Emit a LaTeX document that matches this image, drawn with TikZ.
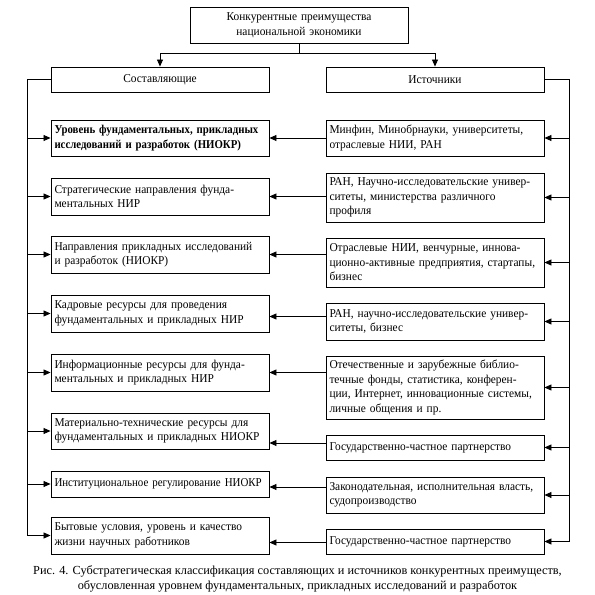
\documentclass[tikz,border=0pt]{standalone}
\usepackage{fontspec}
\setmainfont{Liberation Serif}
\newfontfamily\boxfont[FakeStretch=0.95]{Liberation Serif}
\newfontfamily\boxfontn[FakeStretch=0.91]{Liberation Serif}
\newfontfamily\bfnarrow[FakeStretch=0.9]{Liberation Serif}
\usetikzlibrary{arrows.meta,calc}
\newcommand\jl[1]{\makebox[\linewidth][s]{#1}}
\begin{document}
\begin{tikzpicture}[x=1pt,y=-1pt,
  box/.style={draw, line width=0.9pt, rectangle, minimum width=218pt, text width=211pt,
    inner xsep=3.5pt, inner ysep=2pt, align=left, font=\boxfont\fontsize{12}{14.5}\selectfont},
  cbox/.style={box, align=center},
  conn/.style={line width=0.8pt},
  arr/.style={conn, -{Triangle[length=7pt,width=6pt]}},
]
\useasboundingbox[fill=white] (0,0) rectangle (595,595);

% top level
\node[cbox, minimum height=36pt] (top) at (299,25) {Конкурентные преимущества\\национальной экономики};
\node[cbox, minimum height=25pt] (sost) at (160,79.5) {Составляющие};
\node[cbox, minimum height=25pt] (ist) at (435,79.5) {Источники};

% left column
\node[box, minimum height=36pt] (L1) at (160,138) {\bfnarrow\bfseries\jl{Уровень фундаментальных, прикладных}\\исследований и разработок (НИОКР)};
\node[box, minimum height=37pt] (L2) at (160,196.5) {\jl{Стратегические направления фунда-}\\ментальных НИР};
\node[box, minimum height=37pt] (L3) at (160,254.5) {\jl{Направления прикладных исследований}\\и разработок (НИОКР)};
\node[box, minimum height=37pt] (L4) at (160,313.5) {\jl{Кадровые ресурсы для проведения}\\фундаментальных и прикладных НИР};
\node[box, minimum height=37pt] (L5) at (160,372.5) {\jl{Информационные ресурсы для фунда-}\\ментальных и прикладных НИР};
\node[box, minimum height=36pt] (L6) at (160,431) {\jl{Материально-технические ресурсы для}\\фундаментальных и прикладных НИОКР};
\node[box, minimum height=26pt] (L7) at (160,484) {\boxfontn\jl{Институциональное регулирование НИОКР}};
\node[box, minimum height=37pt] (L8) at (160,535.5) {\jl{Бытовые условия, уровень и качество}\\жизни научных работников};

% right column
\node[box, minimum height=36pt] (R1) at (435,138) {\jl{Минфин, Минобрнауки, университеты,}\\отраслевые НИИ, РАН};
\node[box, minimum height=49pt] (R2) at (435,197.5) {\jl{РАН, Научно-исследовательские универ-}\\\jl{ситеты, министерства различного}\\профиля};
\node[box, minimum height=49pt] (R3) at (435,262.5) {\jl{Отраслевые НИИ, венчурные, иннова-}\\\jl{ционно-активные предприятия, стартапы,}\\бизнес};
\node[box, minimum height=37pt] (R4) at (435,321.5) {\jl{РАН, научно-исследовательские универ-}\\ситеты, бизнес};
\node[box, minimum height=63pt] (R5) at (435,387.5) {\jl{Отечественные и зарубежные библио-}\\\jl{течные фонды, статистика, конферен-}\\\jl{ции, Интернет, инновационные системы,}\\личные общения и пр.};
\node[box, minimum height=25pt] (R6) at (435,447.5) {Государственно-частное партнерство};
\node[box, minimum height=36pt] (R7) at (435,495) {\jl{Законодательная, исполнительная власть,}\\судопроизводство};
\node[box, minimum height=25pt] (R8) at (435,541.5) {Государственно-частное партнерство};

% top connectors
\draw[conn] (top.south) -- ++(0,10) coordinate (j);
\draw[arr] (j) -| (sost.north);
\draw[arr] (j) -| (ist.north);

% spines
\coordinate (lsp) at (27,80);
\coordinate (rsp) at (569,80);
\draw[conn] (sost.west) -- (sost.west -| lsp) -- (L8.west -| lsp);
\draw[conn] (ist.east) -- (ist.east -| rsp) -- (R8.east -| rsp);
\foreach \n in {1,...,8}{
  \draw[arr] (L\n.west -| lsp) -- (L\n.west);
  \draw[arr] (R\n.east -| rsp) -- (R\n.east);
}

% horizontal links right -> left
\draw[arr] (L1.east -| R1.west) -- (L1.east);
\draw[arr] (L2.east -| R2.west) -- (L2.east);
\draw[arr] (L3.east -| R3.west) -- (L3.east);
\draw[arr] ([yshift=-3pt]L4.east -| R4.west) -- ([yshift=-3pt]L4.east);
\draw[arr] (L5.east -| R5.west) -- (L5.east);
\draw[arr] ([yshift=-12pt]L6.east -| R6.west) -- ([yshift=-12pt]L6.east);
\draw[arr] ([yshift=-3pt]L7.east -| R7.west) -- ([yshift=-3pt]L7.east);
\draw[arr] ([yshift=-7pt]L8.east -| R8.west) -- ([yshift=-7pt]L8.east);

% caption
\node[align=center, font=\fontsize{12.3}{14.8}\selectfont] (cap) at (297.5,579)
  {Рис. 4. Субстратегическая классификация составляющих и источников конкурентных преимуществ,\\
   обусловленная уровнем фундаментальных, прикладных исследований и разработок};
\end{tikzpicture}
\end{document}
